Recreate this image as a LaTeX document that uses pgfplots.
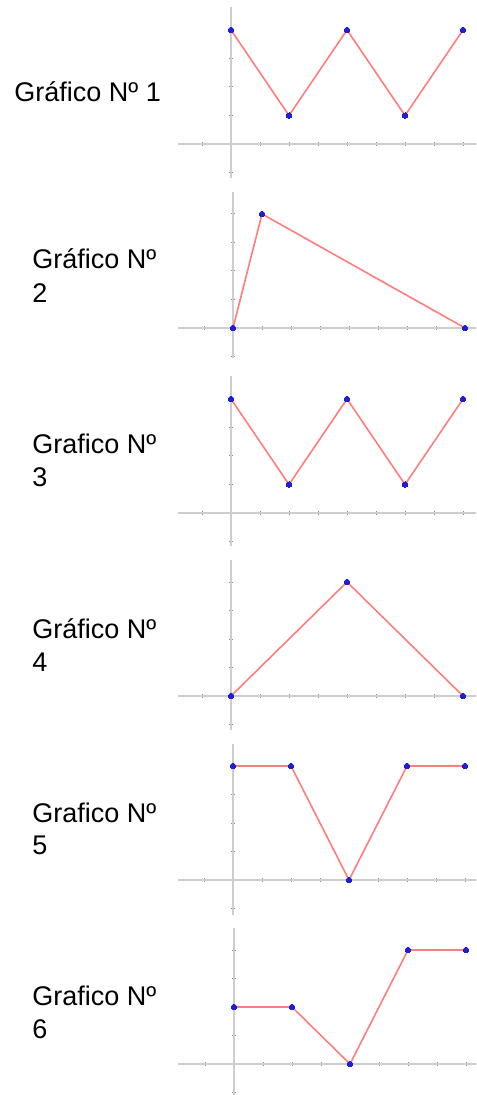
\documentclass[border=0pt]{standalone}
\usepackage{fontspec}
\setmainfont{Liberation Sans}
\usepackage{pgfplots}
\pgfplotsset{compat=1.18}
\definecolor{axgray}{RGB}{205,205,205}
\definecolor{tkgray}{RGB}{140,140,140}
\definecolor{lnred}{RGB}{255,125,125}
\definecolor{ptblue}{RGB}{30,30,210}
\pgfplotsset{
  panel/.style={
    anchor=origin,
    x=14.5pt, y=14.25pt,
    axis lines=middle,
    axis line style={draw=axgray, line width=1.1pt, -},
    xtick={-1,0,...,8}, ytick={-1,0,...,4},
    xticklabels={}, yticklabels={},
    hide obscured x ticks=false, hide obscured y ticks=false,
    major tick length=2pt,
    tick style={draw=tkgray, line width=0.5pt},
    clip=false,
  },
  curve/.style={color=lnred, line width=0.8pt, mark=*, mark size=1.4pt,
    mark options={draw=ptblue, fill=ptblue, line width=0pt}},
}
\newcommand{\lab}[3]{\node[anchor=base west, inner sep=0pt, font=\fontsize{13.5}{17}\selectfont] at (#1pt,-#2pt) {#3};}
\begin{document}
\begin{tikzpicture}
\clip (0,0) rectangle (238pt,-547.5pt);
% labels
\lab{7}{51}{Gráfico Nº 1}
\lab{16}{134.5}{Gráfico Nº}
\lab{16}{151.5}{2}
\lab{16}{226.5}{Grafico Nº}
\lab{16}{243.5}{3}
\lab{16}{319}{Gráfico Nº}
\lab{16}{335.5}{4}
\lab{16}{411}{Grafico Nº}
\lab{16}{427}{5}
\lab{16}{502.5}{Grafico Nº}
\lab{16}{519}{6}
% panel 1
\begin{axis}[panel, at={(115.5pt,-72pt)}, xmin=-1.83, xmax=8.45, ymin=-1.19, ymax=4.8]
\addplot[curve] coordinates {(0,4) (2,1) (4,4) (6,1) (8,4)};
\end{axis}
% panel 2
\begin{axis}[panel, at={(116.5pt,-164pt)}, xmin=-1.9, xmax=8.38, ymin=-1.05, ymax=4.77]
\addplot[curve] coordinates {(0,0) (1,4) (8,0)};
\end{axis}
% panel 3
\begin{axis}[panel, at={(115.5pt,-256.5pt)}, xmin=-1.83, xmax=8.45, ymin=-1.16, ymax=4.8]
\addplot[curve] coordinates {(0,4) (2,1) (4,4) (6,1) (8,4)};
\end{axis}
% panel 4
\begin{axis}[panel, at={(115.5pt,-348pt)}, xmin=-1.83, xmax=8.45, ymin=-1.2, ymax=4.77]
\addplot[curve] coordinates {(0,0) (4,4) (8,0)};
\end{axis}
% panel 5
\begin{axis}[panel, at={(116.5pt,-440pt)}, xmin=-1.9, xmax=8.38, ymin=-1.23, ymax=4.77]
\addplot[curve] coordinates {(0,4) (2,4) (4,0) (6,4) (8,4)};
\end{axis}
% panel 6
\begin{axis}[panel, at={(117pt,-532pt)}, xmin=-1.93, xmax=8.34, ymin=-1.09, ymax=4.77]
\addplot[curve] coordinates {(0,2) (2,2) (4,0) (6,4) (8,4)};
\end{axis}
\end{tikzpicture}
\end{document}
